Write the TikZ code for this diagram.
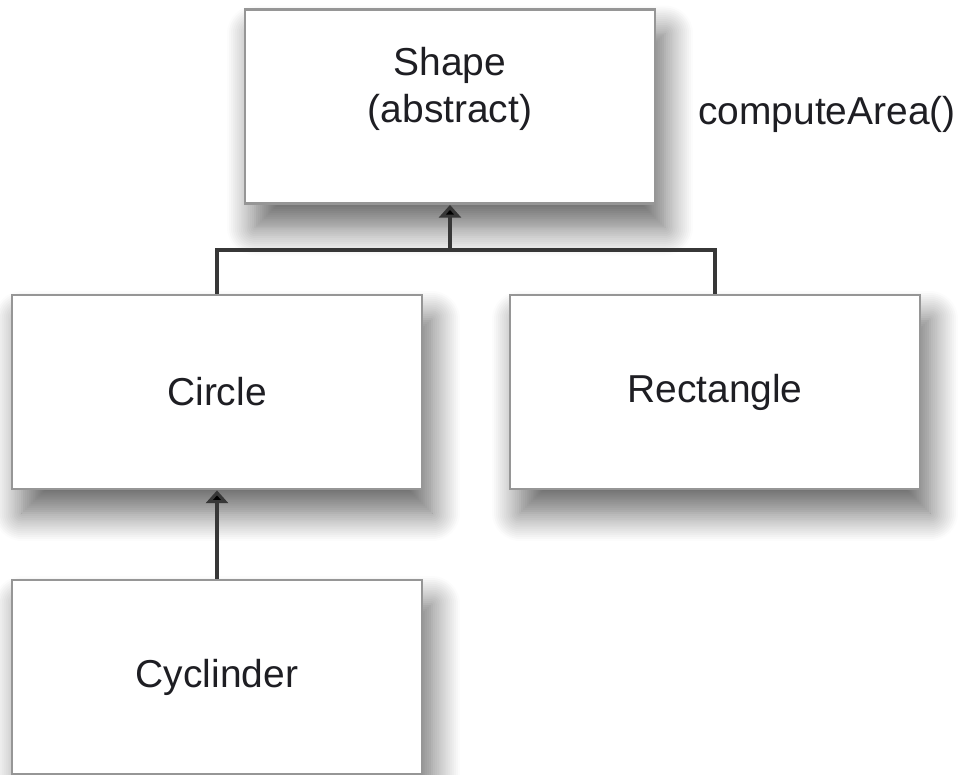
\documentclass[tikz,border=0pt]{standalone}
\usepackage{fontspec}
\setmainfont{Liberation Sans}
\usepackage{xcolor}
\usepackage{tikz}
\usetikzlibrary{arrows.meta}
\usetikzlibrary{positioning}
\usetikzlibrary{shadows.blur}

\definecolor{boxline}{RGB}{150,150,150}
\definecolor{linkline}{RGB}{55,55,55}
\definecolor{labeltext}{RGB}{30,30,35}

\tikzset{
  classfont/.style={font=\fontsize{27.7}{33}\selectfont},
  classbox/.style={draw=boxline, line width=2pt, fill=white, classfont,
    text=labeltext, inner sep=0pt,
    minimum width=10.25cm, minimum height=4.85cm,
    blur shadow={shadow xshift=0.25cm, shadow yshift=-0.6cm,
      shadow blur radius=0.7cm, shadow blur steps=15, shadow opacity=60}},
  classtext/.style={classfont, text=labeltext, inner sep=0pt, align=center},
  link/.style={draw=linkline, line width=2.6pt},
  inherits/.style={link, -{Triangle[width=0.55cm,length=0.32cm,fill=black]}},
}

\begin{document}
\begin{tikzpicture}[auto, on grid, node distance=7.125cm]
        \useasboundingbox (0,0) rectangle (24.275,-19.375);

        \node[classbox] (shape)  at (11.25,-2.6625)                        {};
        \node[classbox] (circle) [below left=7.1375cm and 5.825cm of shape] {Circle};
        \node[classbox] (rect)   [right=12.45cm of circle]                  {Rectangle};
        \node[classbox] (cyl)    [below=of circle]                          {Cyclinder};

        \node[classtext] (shapetext) at ([yshift=0.44cm]shape.center) {Shape\\(abstract)};
        \node[classtext, anchor=base west] (area) at (17.45,-3.125) {computeArea()};

        \coordinate[below=1.125cm of shape.south] (bus);

        \draw[link] (circle.north) |- (bus) -| (rect.north);

        \path
          (bus)       edge[inherits] (shape.south)
          (cyl.north) edge[inherits] (circle.south);

\end{tikzpicture}
\end{document}
